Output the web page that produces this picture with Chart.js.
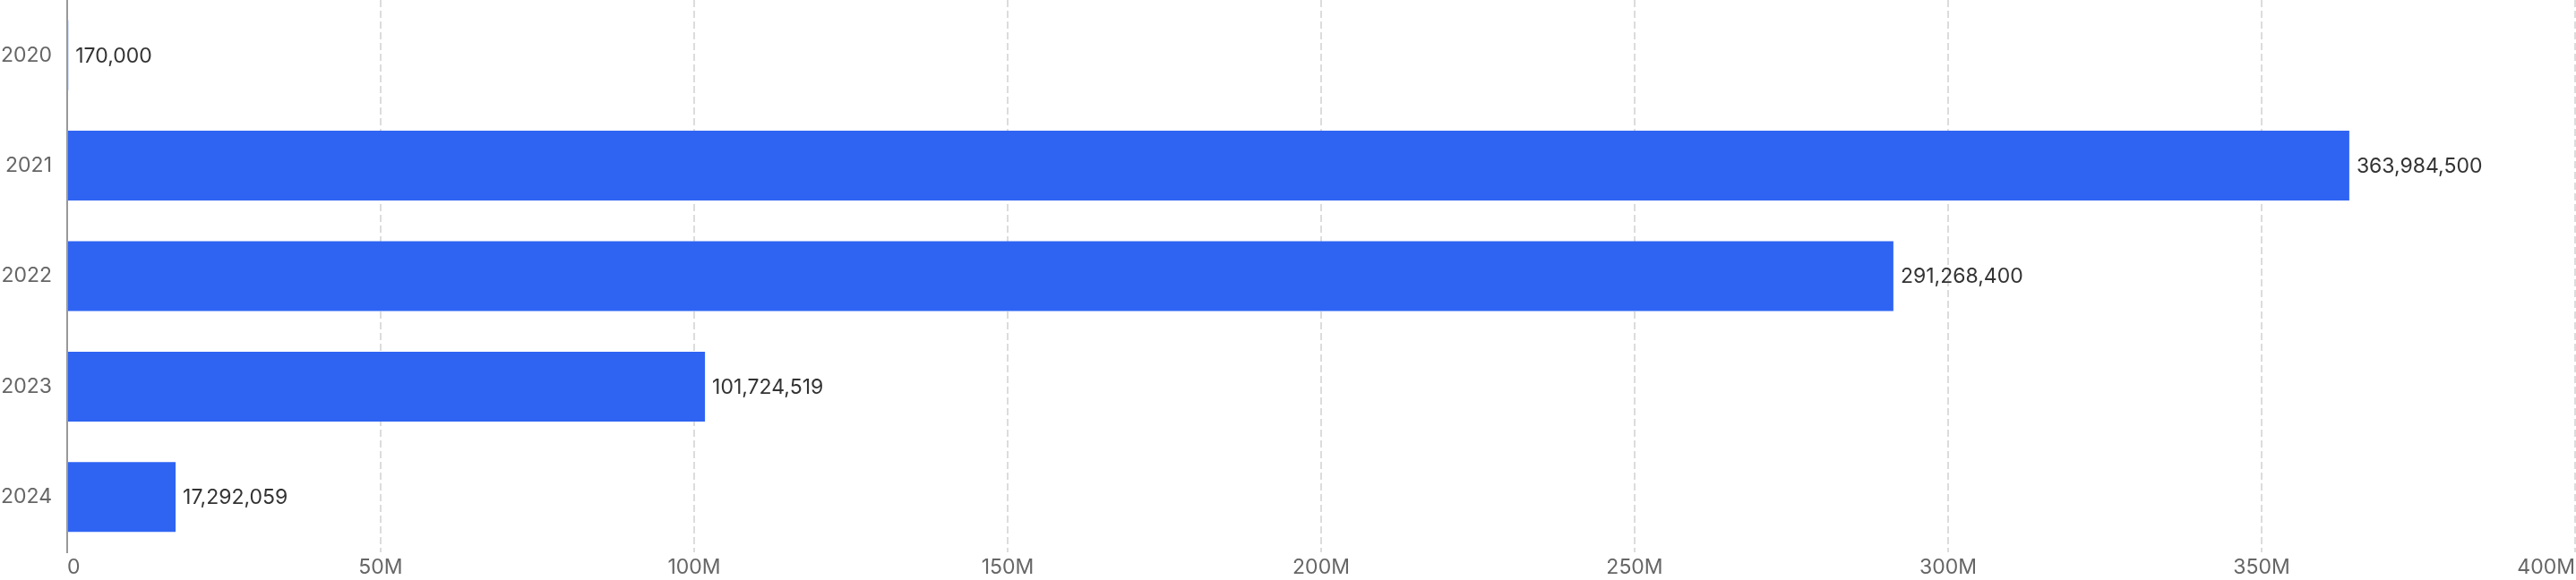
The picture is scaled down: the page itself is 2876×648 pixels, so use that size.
<!DOCTYPE html>
<html>
<head>
<meta charset="utf-8">
<script src="https://cdn.jsdelivr.net/npm/chart.js@4"></script>
<style>
html,body{margin:0;padding:0;background:#fff;}
#wrap{width:2876px;height:648px;position:relative;}
</style>
</head>
<body>
<div id="wrap"><canvas id="c" width="2876" height="648"></canvas></div>
<script>
const categories = ['2020', '2021', '2022', '2023', '2024'];
const values = [170000, 363984500, 291268400, 101724519, 17292059];
const xTickLabels = ['0', '50M', '100M', '150M', '200M', '250M', '300M', '350M', '400M'];

const valueLabels = {
  id: 'valueLabels',
  afterDatasetsDraw(chart) {
    const ctx = chart.ctx;
    const meta = chart.getDatasetMeta(0);
    ctx.save();
    ctx.font = '23px Inter';
    ctx.fillStyle = '#333333';
    ctx.textAlign = 'left';
    ctx.textBaseline = 'middle';
    meta.data.forEach((bar, i) => {
      ctx.fillText(values[i].toLocaleString('en-US'), bar.x + 8, bar.y + 1);
    });
    ctx.restore();
  }
};

new Chart(document.getElementById('c'), {
  type: 'bar',
  data: {
    labels: categories,
    datasets: [{
      data: values,
      backgroundColor: '#2f64f3',
      borderWidth: 0,
      categoryPercentage: 1,
      barPercentage: 0.632
    }]
  },
  options: {
    indexAxis: 'y',
    responsive: false,
    devicePixelRatio: 1,
    animation: false,
    layout: { padding: { left: 0, right: 1, top: 0, bottom: 0 } },
    plugins: { legend: { display: false }, tooltip: { enabled: false } },
    scales: {
      x: {
        min: 0,
        max: 400000000,
        ticks: {
          stepSize: 50000000,
          align: 'inner',
          color: '#666666',
          font: { family: 'Inter', size: 23 },
          padding: 3,
          callback: (v, i) => xTickLabels[i]
        },
        grid: {
          color: (c) => c.index === 0 ? 'rgba(0,0,0,0)' : '#dcdcdc',
          lineWidth: 2,
          drawTicks: false
        },
        border: { display: false, dash: [8, 4] },
        afterFit(s) { s.height = 31; s.paddingLeft = 0; s.paddingRight = 0; }
      },
      y: {
        ticks: {
          color: '#666666',
          font: { family: 'Inter', size: 23 },
          padding: 17
        },
        grid: { display: false, drawTicks: false },
        border: { display: true, color: '#999999', width: 2, dash: [8, 4] },
        afterFit(s) { s.width = 75; s.paddingTop = 0; s.paddingBottom = 0; }
      }
    }
  },
  plugins: [valueLabels]
});
</script>
</body>
</html>
